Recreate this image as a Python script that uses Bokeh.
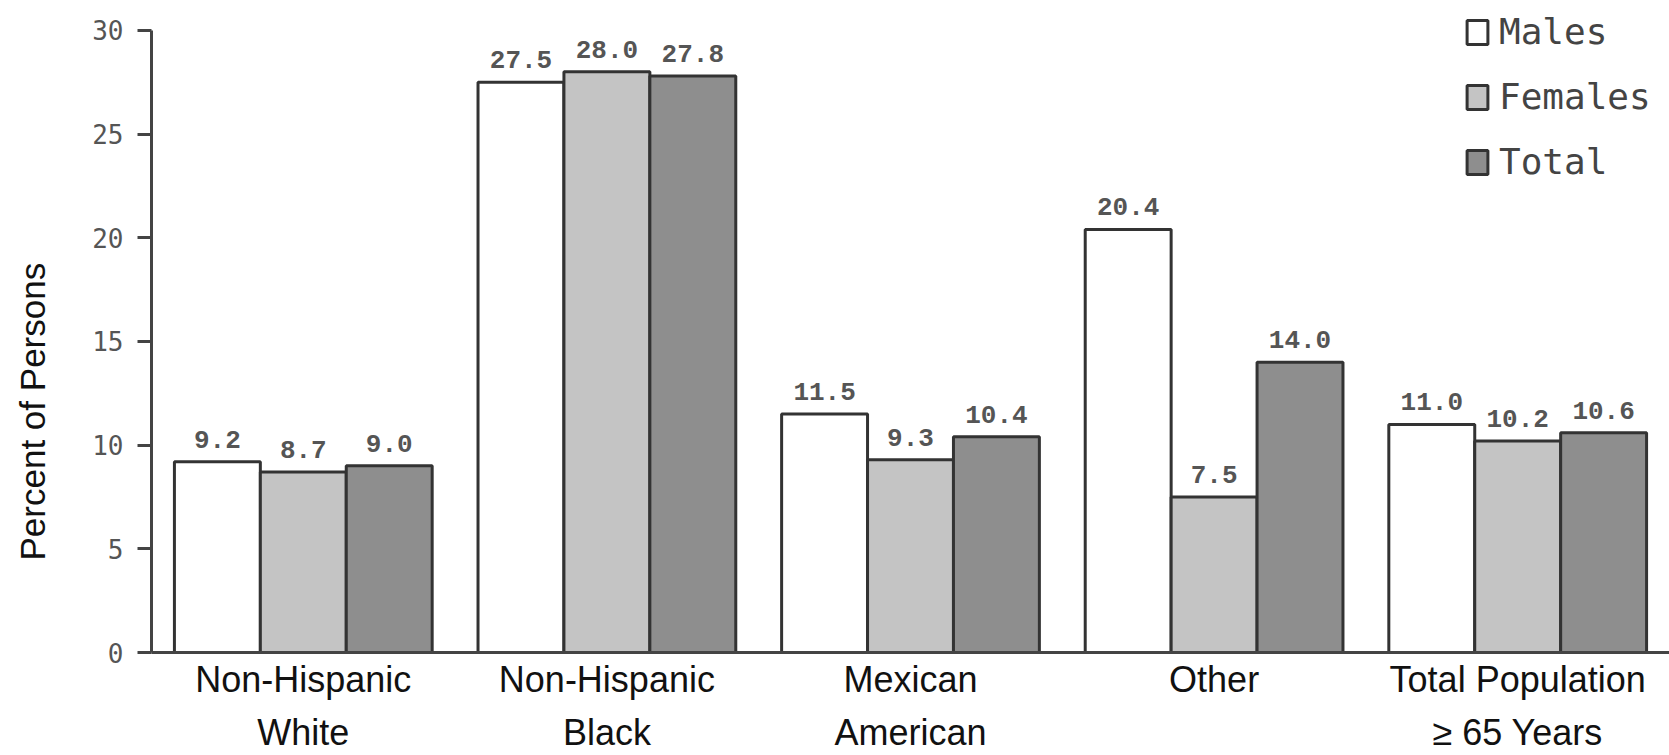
from bokeh.plotting import figure
from bokeh.models import ColumnDataSource, FactorRange, Legend, LegendItem, FixedTicker, Range1d
from bokeh.transform import dodge
from bokeh.core.properties import value
from bokeh.embed import file_html
from bokeh.resources import INLINE

categories = ["Non-Hispanic\nWhite", "Non-Hispanic\nBlack", "Mexican\nAmerican",
              "Other", "Total Population\n\u2265 65 Years"]
males = [9.2, 27.5, 11.5, 20.4, 11.0]
females = [8.7, 28.0, 9.3, 7.5, 10.2]
total = [9.0, 27.8, 10.4, 14.0, 10.6]
series_names = ["Males", "Females", "Total"]
y_ticks = [0, 5, 10, 15, 20, 25, 30]
y_label = "Percent of Persons"

source = ColumnDataSource(dict(
    cat=categories,
    males=males, females=females, total=total,
    males_lbl=["%.1f" % v for v in males],
    females_lbl=["%.1f" % v for v in females],
    total_lbl=["%.1f" % v for v in total],
))

p = figure(width=1669, height=755,
           x_range=FactorRange(*categories, range_padding=0),
           y_range=Range1d(0, 31.2),
           output_backend="svg", toolbar_location=None,
           min_border_left=151, min_border_right=0,
           min_border_top=5, min_border_bottom=102)

p.xgrid.visible = False
p.ygrid.visible = False
p.outline_line_color = None
p.background_fill_color = "white"

W = 0.283
fills = ["#ffffff", "#c4c4c4", "#8e8e8e"]
cols = ["males", "females", "total"]
offs = [-W, 0.0, W]
renderers = []
for col, off, fc in zip(cols, offs, fills):
    r = p.vbar(x=dodge("cat", off, range=p.x_range), top=col, width=W, bottom=0,
               source=source, fill_color=fc, line_color="#333333", line_width=3)
    renderers.append(r)
    p.text(x=dodge("cat", off, range=p.x_range), y=col, text=col + "_lbl",
           source=source, text_align="center", text_baseline="bottom",
           y_offset=-14, text_font=value("Liberation Mono"), text_font_style="bold",
           text_font_size="26px", text_color="#555555")

# axes
p.yaxis.ticker = FixedTicker(ticks=y_ticks)
p.yaxis.bounds = (0, 30)
p.yaxis.axis_line_width = 3
p.yaxis.axis_line_color = "#444444"
p.yaxis.major_tick_line_width = 3
p.yaxis.major_tick_line_color = "#444444"
p.yaxis.major_tick_out = 14
p.yaxis.major_tick_in = 0
p.yaxis.minor_tick_line_color = None
p.yaxis.major_label_text_font = "DejaVu Sans Mono"
p.yaxis.major_label_text_font_size = "26px"
p.yaxis.major_label_text_color = "#555555"
p.yaxis.major_label_standoff = 14
# trailing no-break spaces shift the visible label lower along the axis, as in the original
p.yaxis.axis_label = y_label + "\u00a0" * 17
p.yaxis.axis_label_text_font = "Liberation Sans"
p.yaxis.axis_label_text_font_style = "normal"
p.yaxis.axis_label_text_font_size = "35px"
p.yaxis.axis_label_text_color = "#111111"
p.yaxis.axis_label_standoff = 37

p.xaxis.axis_line_width = 3
p.xaxis.axis_line_color = "#444444"
p.xaxis.major_tick_line_color = None
p.xaxis.major_tick_out = 0
p.xaxis.major_tick_in = 0
p.xaxis.minor_tick_line_color = None
p.xaxis.major_label_text_font = "Liberation Sans"
p.xaxis.major_label_text_font_size = "36px"
p.xaxis.major_label_text_color = "#111111"
p.xaxis.major_label_text_line_height = 1.3
p.xaxis.major_label_standoff = 6

legend = Legend(items=[LegendItem(label=n, renderers=[r]) for n, r in zip(series_names, renderers)],
                location=(1313, 470), orientation="vertical",
                glyph_width=26, glyph_height=30, label_height=24, spacing=24,
                padding=0, margin=0, label_standoff=9,
                border_line_alpha=0, background_fill_alpha=0,
                label_text_font="DejaVu Sans Mono", label_text_font_size="36px",
                label_text_color="#444444")
p.add_layout(legend)

open("out.html", "w").write(file_html(p, INLINE))
